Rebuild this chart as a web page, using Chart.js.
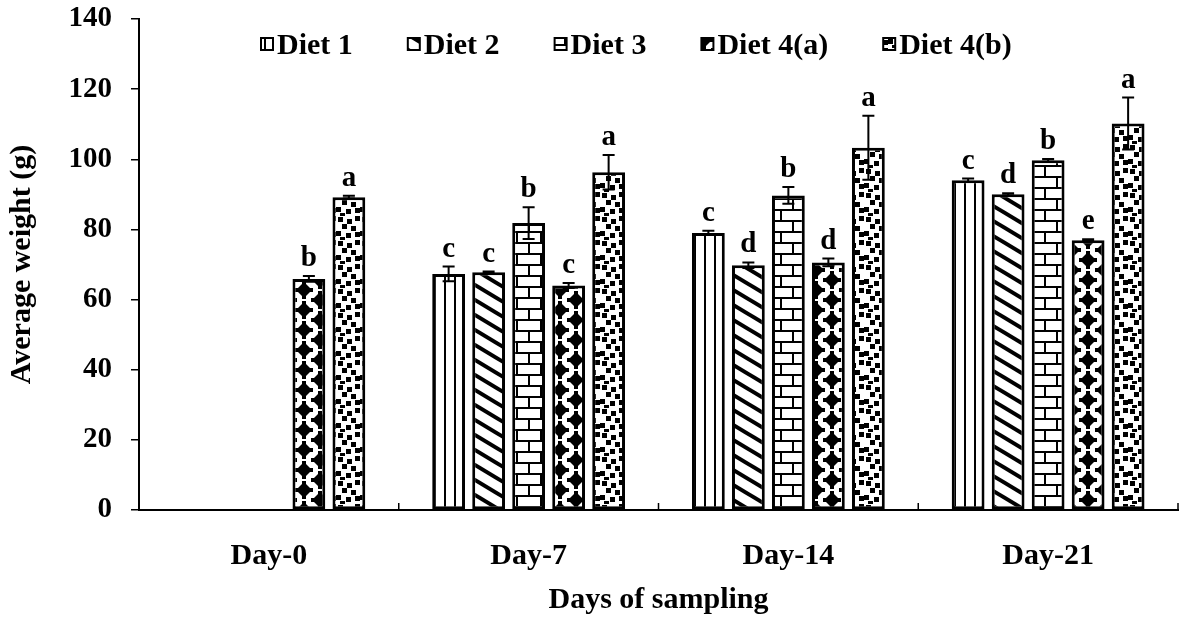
<!DOCTYPE html>
<html>
<head>
<meta charset="utf-8">
<script src="https://cdn.jsdelivr.net/npm/chart.js@4.4.1/dist/chart.umd.min.js"></script>
<style>
  html, body { margin: 0; padding: 0; background: #fff; }
  #contenedor { width: 1181px; height: 618px; }
</style>
</head>
<body>
<div id="contenedor"><canvas id="grafico"></canvas></div>
<script>
// datos (peso medio en g)
const dias = ['Day-0', 'Day-7', 'Day-14', 'Day-21'];
const nombres = ['Diet 1', 'Diet 2', 'Diet 3', 'Diet 4(a)', 'Diet 4(b)'];

const dieta1 = [null, 67.3, 79.0, 94.0];
const dieta2 = [null, 67.8, 69.8, 90.0];
const dieta3 = [null, 81.8, 89.7, 99.7];
const dieta4a = [65.9, 64.0, 70.6, 76.9];
const dieta4b = [89.2, 96.3, 103.3, 110.2];

// error estandar
const error1 = [null, 2.1, 0.6, 0.5];
const error2 = [null, 0.2, 0.8, 0.3];
const error3 = [null, 4.5, 2.4, 0.4];
const error4a = [0.8, 0.7, 1.1, 0.3];
const error4b = [0.4, 4.9, 9.1, 7.4];

// letras de significancia
const letras1 = ['', 'c', 'c', 'c'];
const letras2 = ['', 'c', 'd', 'd'];
const letras3 = ['', 'b', 'b', 'b'];
const letras4a = ['b', 'c', 'd', 'e'];
const letras4b = ['a', 'a', 'a', 'a'];

// eje y
const yMin = 0;
const yMax = 140;
const yPaso = 20;

const fuente = "'Liberation Serif', 'Times New Roman', serif";

// crear los rellenos con patron (blanco y negro)
function crearPatron(tipo) {
  var c = document.createElement('canvas');
  var g = c.getContext('2d');
  if (tipo === 'vertical') {
    c.width = 10; c.height = 10;
    g.fillStyle = '#fff'; g.fillRect(0, 0, 10, 10);
    g.fillStyle = '#000'; g.fillRect(4, 0, 2, 10);
  } else if (tipo === 'diagonal') {
    c.width = 25; c.height = 15;
    g.fillStyle = '#fff'; g.fillRect(0, 0, 25, 15);
    g.strokeStyle = '#000'; g.lineWidth = 4;
    for (var k = -1; k <= 1; k++) {
      g.beginPath();
      g.moveTo(-25, k * 15 - 15);
      g.lineTo(50, k * 15 + 30);
      g.stroke();
    }
  } else if (tipo === 'ladrillo') {
    c.width = 24; c.height = 22;
    g.fillStyle = '#fff'; g.fillRect(0, 0, 24, 22);
    g.fillStyle = '#000';
    g.fillRect(0, 0, 24, 2);
    g.fillRect(0, 11, 24, 2);
    g.fillRect(0, 0, 2, 11);
    g.fillRect(12, 11, 2, 11);
  } else if (tipo === 'rombos') {
    c.width = 32; c.height = 20;
    g.fillStyle = '#fff'; g.fillRect(0, 0, 32, 20);
    g.fillStyle = '#000';
    var centros = [[16, 10], [0, 0], [32, 0], [0, 20], [32, 20]];
    centros.forEach(function (p) {
      g.beginPath();
      g.moveTo(p[0], p[1] - 8);
      g.lineTo(p[0] + 8, p[1]);
      g.lineTo(p[0], p[1] + 8);
      g.lineTo(p[0] - 8, p[1]);
      g.closePath();
      g.fill();
      g.fillRect(p[0] - 9, p[1] - 2, 18, 4);
      g.fillRect(p[0] - 2, p[1] - 9, 4, 18);
    });
  } else if (tipo === 'puntos') {
    c.width = 24; c.height = 24;
    g.fillStyle = '#fff'; g.fillRect(0, 0, 24, 24);
    g.fillStyle = '#000';
    var cuadros = [[2, 1], [11, 3], [19, 0], [6, 8], [15, 10], [0, 15], [10, 17], [19, 16], [4, 21]];
    cuadros.forEach(function (q) { g.fillRect(q[0], q[1], 5, 5); });
  }
  return g.createPattern(c, 'repeat');
}

const patrones = [
  crearPatron('vertical'),
  crearPatron('diagonal'),
  crearPatron('ladrillo'),
  crearPatron('rombos'),
  crearPatron('puntos')
];

const valores = [dieta1, dieta2, dieta3, dieta4a, dieta4b];
const errores = [error1, error2, error3, error4a, error4b];
const letras = [letras1, letras2, letras3, letras4a, letras4b];

const datasets = nombres.map(function (n, i) {
  return {
    label: n,
    data: valores[i],
    backgroundColor: patrones[i],
    borderColor: '#000',
    borderWidth: 3,
    borderSkipped: false,
    categoryPercentage: 0.77,
    barPercentage: 0.82
  };
});

// barras de error + letras encima
const pluginErrores = {
  id: 'errores',
  afterDatasetsDraw(chart) {
    var ctx = chart.ctx;
    var y = chart.scales.y;
    ctx.save();
    ctx.strokeStyle = '#000';
    ctx.lineWidth = 2;
    ctx.fillStyle = '#000';
    ctx.font = 'bold 29px ' + fuente;
    ctx.textAlign = 'center';
    ctx.textBaseline = 'alphabetic';
    chart.data.datasets.forEach(function (ds, i) {
      var meta = chart.getDatasetMeta(i);
      meta.data.forEach(function (bar, j) {
        var v = ds.data[j];
        if (v === null) return;
        var e = errores[i][j];
        var arriba = y.getPixelForValue(v + e);
        var abajo = y.getPixelForValue(v - e);
        ctx.beginPath();
        ctx.moveTo(bar.x, arriba);
        ctx.lineTo(bar.x, abajo);
        ctx.moveTo(bar.x - 6, arriba);
        ctx.lineTo(bar.x + 6, arriba);
        ctx.moveTo(bar.x - 6, abajo);
        ctx.lineTo(bar.x + 6, abajo);
        ctx.stroke();
        ctx.fillText(letras[i][j], bar.x, arriba - 10);
      });
    });
    ctx.restore();
  }
};

// marcas del eje x (hacia arriba) y leyenda dentro del area
const pluginExtras = {
  id: 'extras',
  afterDraw(chart) {
    var ctx = chart.ctx;
    var x = chart.scales.x;
    var area = chart.chartArea;
    ctx.save();
    ctx.strokeStyle = '#000';
    ctx.lineWidth = 1.5;
    for (var i = 1; i <= dias.length; i++) {
      var xb = i < dias.length
        ? (x.getPixelForValue(i - 1) + x.getPixelForValue(i)) / 2
        : area.right;
      ctx.beginPath();
      ctx.moveTo(xb, area.bottom);
      ctx.lineTo(xb, area.bottom - 7);
      ctx.stroke();
    }

    // leyenda
    ctx.font = 'bold 30px ' + fuente;
    ctx.textAlign = 'left';
    ctx.textBaseline = 'alphabetic';
    var px = 261;
    var py = 38;
    chart.data.datasets.forEach(function (ds, i) {
      ctx.fillStyle = patrones[i];
      ctx.fillRect(px, py, 12, 12);
      ctx.lineWidth = 2;
      ctx.strokeRect(px, py, 12, 12);
      ctx.fillStyle = '#000';
      ctx.fillText(ds.label, px + 16, py + 16);
      px += 16 + ctx.measureText(ds.label).width + 55;
    });
    ctx.restore();
  }
};

new Chart(document.getElementById('grafico'), {
  type: 'bar',
  data: {
    labels: dias,
    datasets: datasets
  },
  options: {
    responsive: true,
    maintainAspectRatio: false,
    animation: false,
    layout: {
      padding: { top: 19, right: 3, bottom: 0, left: 0 }
    },
    plugins: {
      legend: { display: false },
      tooltip: { enabled: false }
    },
    scales: {
      x: {
        grid: { display: false },
        border: { display: true, color: '#000', width: 2 },
        ticks: {
          color: '#000',
          padding: 20,
          font: { family: fuente, size: 30, weight: 'bold' }
        },
        title: {
          display: true,
          text: 'Days of sampling',
          color: '#000',
          padding: { top: 0, bottom: 0 },
          font: { family: fuente, size: 30, weight: 'bold' }
        },
        afterFit(scale) { scale.height = 108; }
      },
      y: {
        min: yMin,
        max: yMax,
        grid: {
          drawOnChartArea: false,
          drawTicks: true,
          tickLength: 8,
          color: '#000',
          lineWidth: 1.5
        },
        border: { display: true, color: '#000', width: 2 },
        ticks: {
          stepSize: yPaso,
          color: '#000',
          padding: 19,
          font: { family: fuente, size: 29, weight: 'bold' }
        },
        title: {
          display: true,
          text: 'Average weight (g)',
          color: '#000',
          padding: { top: 4, bottom: 0 },
          font: { family: fuente, size: 30, weight: 'bold' }
        },
        afterFit(scale) {
          scale.width = 139;
          // que la etiqueta 140 no empuje el area hacia abajo
          scale.paddingTop = 0;
          scale.paddingBottom = 0;
        }
      }
    }
  },
  plugins: [pluginErrores, pluginExtras]
});
</script>
</body>
</html>
